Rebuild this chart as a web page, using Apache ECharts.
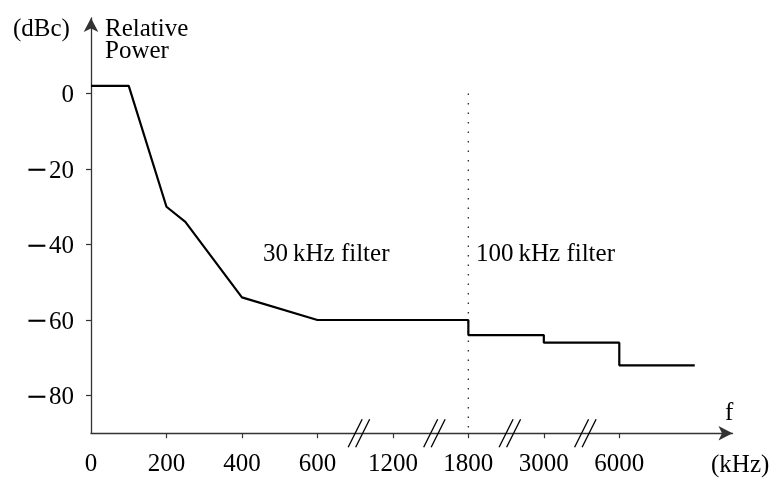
<!DOCTYPE html>
<html>
<head>
<meta charset="utf-8">
<script src="https://cdn.jsdelivr.net/npm/echarts@6/dist/echarts.min.js"></script>
<style>
html,body{margin:0;padding:0;background:#fff;}
#c{width:776px;height:481px;}
</style>
</head>
<body>
<div id="c"></div>
<script>
// ---- data ----
const tickFreqs = [0, 200, 400, 600, 1200, 1800, 3000, 6000];
const tickLabels = ['0', '200', '400', '600', '1200', '1800', '3000', '6000'];
const scaleFreqs = [0, 200, 400, 600, 1200, 1800, 3000, 6000, 12000];
const freqKHz = [0, 100, 200, 250, 400, 600, 1800, 1800, 3000, 3000, 6000, 6000, 12000];
const powerDBc = [2, 2, -30, -34, -54, -60, -60, -64, -64, -66, -66, -72, -72];
const yTicks = [-80, -60, -40, -20, 0];
const filterBoundaryKHz = 1800;
const breakGaps = [3, 4, 5, 6];

// piecewise (broken) frequency scale -> axis units
function pos(f) {
  for (let i = 0; i < scaleFreqs.length - 1; i++) {
    if (f <= scaleFreqs[i + 1]) {
      return i + (f - scaleFreqs[i]) / (scaleFreqs[i + 1] - scaleFreqs[i]);
    }
  }
  return scaleFreqs.length - 1;
}

const lineData = freqKHz.map((f, i) => [pos(f), powerDBc[i]]);
const FONT = '"Liberation Serif", "Times New Roman", serif';
const AX = '#333';

const chart = echarts.init(document.getElementById('c'), null, {renderer: 'canvas'});
chart.setOption({
  animation: false,
  backgroundColor: '#fff',
  grid: {left: 91, right: 43.5, top: 18, bottom: 47.75, containLabel: false},
  xAxis: {
    type: 'value', min: 0, max: 8.5,
    axisLine: {show: true, onZero: false, symbol: ['none', 'arrow'], symbolSize: [11, 14],
      lineStyle: {color: AX, width: 1.3}},
    axisTick: {show: true, length: 5, inside: false, customValues: [1, 2, 3, 4, 5, 6, 7],
      lineStyle: {color: AX, width: 1.2}},
    axisLabel: {customValues: tickFreqs.map((f) => pos(f)), margin: 19,
      formatter: (v) => tickLabels[Math.round(v)],
      fontFamily: FONT, fontSize: 25, color: '#000'},
    splitLine: {show: false}
  },
  yAxis: {
    type: 'value', min: -90, max: 20,
    axisLine: {show: true, onZero: false, symbol: ['none', 'arrow'], symbolSize: [11, 14],
      lineStyle: {color: AX, width: 1.3}},
    axisTick: {show: true, length: 5, customValues: yTicks, lineStyle: {color: AX, width: 1.2}},
    axisLabel: {customValues: yTicks, margin: 17,
      formatter: (v) => v < 0 ? '{m|\u2212}{n|' + Math.abs(v) + '}' : '{n|' + v + '}',
      rich: {
        m: {fontFamily: '"DejaVu Serif", serif', fontSize: 27, color: '#000', padding: [4, 1, 0, 0]},
        n: {fontFamily: FONT, fontSize: 25, color: '#000', padding: [4, 0, 0, 0]}
      }},
    splitLine: {show: false}
  },
  series: [
    {
      type: 'line', data: lineData, showSymbol: false, symbol: 'none',
      lineStyle: {color: '#000', width: 2.2}, z: 5
    },
    {
      type: 'line',
      data: [[pos(filterBoundaryKHz), 0], [pos(filterBoundaryKHz), -90]],
      showSymbol: false, symbol: 'none',
      lineStyle: {color: '#333', width: 1.4, type: [1.5, 8]}, z: 3
    },
    {
      type: 'custom',
      clip: false,
      data: breakGaps.map((g) => [g + 0.55, -90]),
      renderItem: function (params, api) {
        const p = api.coord([api.value(0), api.value(1)]);
        const children = [-3.75, 3.75].map((dx) => ({
          type: 'line',
          shape: {x1: p[0] + dx - 7, y1: p[1] + 14, x2: p[0] + dx + 7, y2: p[1] - 14},
          style: {stroke: '#000', lineWidth: 1.3}
        }));
        return {type: 'group', children: children};
      },
      z: 6
    }
  ],
  graphic: [
    {type: 'text', left: 13, top: 17, style: {text: '(dBc)', font: '25px ' + FONT, fill: '#000'}},
    {type: 'text', left: 105, top: 17, style: {text: 'Relative', font: '25px ' + FONT, fill: '#000'}},
    {type: 'text', left: 105, top: 39, style: {text: 'Power', font: '25px ' + FONT, fill: '#000'}},
    {type: 'text', left: 725, top: 401, style: {text: 'f', font: '25px ' + FONT, fill: '#000'}},
    {type: 'text', left: 711, top: 453, style: {text: '(kHz)', font: '25px ' + FONT, fill: '#000'}},
    {type: 'text', left: 263, top: 242, style: {text: '30\u2009kHz filter', font: '25px ' + FONT, fill: '#000'}},
    {type: 'text', left: 476, top: 242, style: {text: '100\u2009kHz filter', font: '25px ' + FONT, fill: '#000'}}
  ]
});
</script>
</body>
</html>
